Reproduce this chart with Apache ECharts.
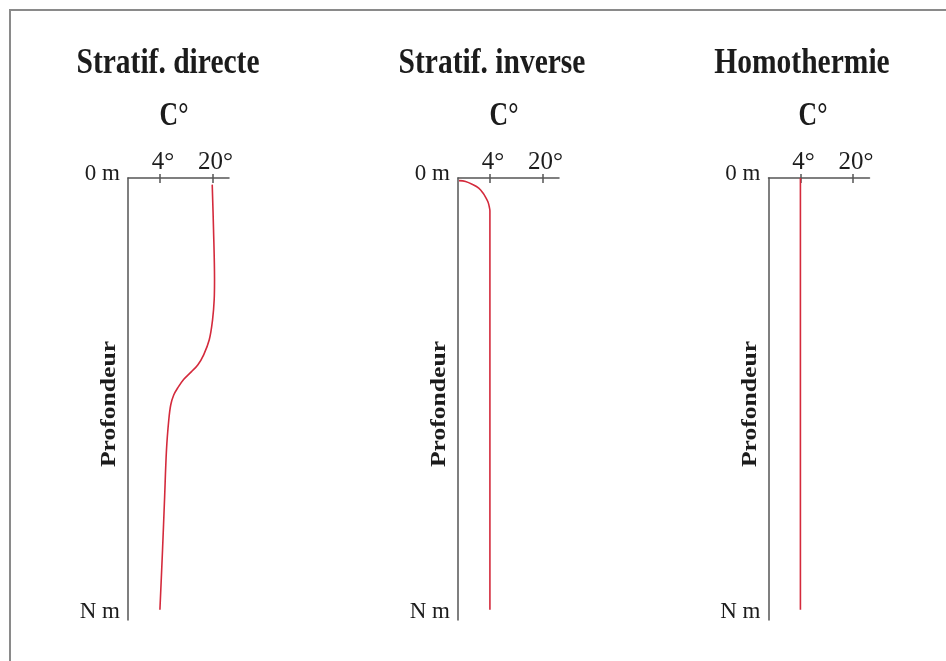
<!DOCTYPE html>
<html><head><meta charset="utf-8">
<script src="https://cdn.jsdelivr.net/npm/echarts@6/dist/echarts.min.js"></script>
<style>html,body{margin:0;padding:0;background:#fff}#c{width:946px;height:661px}</style>
</head><body><div id="c"></div>
<script>
// ---- data ----
const titles = ['Stratif. directe', 'Stratif. inverse', 'Homothermie'];
const unitLabel = 'C°';
const depthAxisName = 'Profondeur';
const tempTicks = [4, 20];
const depthTicks = [0, 100];
const depthTickLabels = ['0 m', 'N m'];
const tempRange = [-5.7, 25];
const depthRange = [0, 100];

// Stratification directe (temperature °C vs schematic depth %)
const directeTemp  = [19.9, 20.3, 20.6, 20.5, 20.0, 19.0, 17.3, 15.5, 13.6, 11.2, 9.4, 8.2, 7.3, 6.7, 6.0, 5.4, 4.8, 4.0];
const directeDepth = [1.5, 11.7, 23.0, 27.5, 32.1, 36.6, 40.0, 42.3, 43.8, 45.6, 47.5, 49.1, 51.3, 54.7, 61.5, 72.8, 84.1, 97.7];
// Stratification inverse
const inverseTemp  = [-5.4, -3.4, -1.2, 0.6, 1.9, 2.8, 3.45, 3.8, 4.0, 4.0];
const inverseDepth = [0.6, 0.8, 1.5, 2.3, 3.4, 4.5, 5.5, 6.5, 7.4, 97.7];
// Homothermie
const homoTemp  = [4.0, 4.0];
const homoDepth = [0.0, 97.7];

const seriesTemp = [directeTemp, inverseTemp, homoTemp];
const seriesDepth = [directeDepth, inverseDepth, homoDepth];

// ---- layout ----
const panelLeft = [128, 458, 768.5];
const titleX = [168, 492, 802];
const unitX = [174, 504, 813];
const axisColor = '#555';
const textColor = '#1c1c1c';
const lineColor = '#d42a3c';
const serif = '"Liberation Serif", "Times New Roman", serif';

const grid = [], xAxis = [], yAxis = [], series = [], graphic = [];
for (let i = 0; i < 3; i++) {
  grid.push({left: panelLeft[i], top: 178, width: 101, height: 442});
  xAxis.push({
    type: 'value', gridIndex: i, position: 'top', min: tempRange[0], max: tempRange[1],
    axisLine: {show: true, onZero: false, lineStyle: {color: axisColor, width: 1.5}},
    axisTick: {show: true, customValues: tempTicks, length: 4, inside: false, lineStyle: {color: axisColor, width: 1.5}},
    axisLabel: {show: true, customValues: tempTicks, formatter: v => v + '°', fontFamily: serif, fontSize: 25,
      color: textColor, margin: 3, padding: [0, 0, 0, 6]},
    splitLine: {show: false}
  });
  xAxis.push({
    type: 'value', gridIndex: i, position: 'top', min: tempRange[0], max: tempRange[1],
    axisLine: {show: false, onZero: false},
    axisTick: {show: true, customValues: tempTicks, length: 5, inside: true, lineStyle: {color: axisColor, width: 1.5}},
    axisLabel: {show: false},
    splitLine: {show: false}
  });
  yAxis.push({
    type: 'value', gridIndex: i, inverse: true, min: depthRange[0], max: depthRange[1],
    axisLine: {show: true, onZero: false, lineStyle: {color: axisColor, width: 1.5}},
    axisTick: {show: false},
    splitLine: {show: false},
    axisLabel: {
      show: true, customValues: depthTicks, margin: 8,
      formatter: v => { const k = depthTicks.indexOf(v); return '{' + (k === 0 ? 'a' : 'b') + '|' + depthTickLabels[k] + '}'; },
      rich: {
        a: {fontFamily: serif, fontSize: 23, color: textColor, padding: [0, 0, 8, 0]},
        b: {fontFamily: serif, fontSize: 23, color: textColor, padding: [0, 0, 16, 0]}
      }
    }
  });
  series.push({
    type: 'line', xAxisIndex: 2 * i, yAxisIndex: i,
    data: seriesTemp[i].map((t, j) => [t, seriesDepth[i][j]]),
    smooth: 0.35, showSymbol: false, silent: true,
    lineStyle: {color: lineColor, width: 1.6}
  });
  graphic.push({type: 'text', x: titleX[i], y: 64, scaleX: 0.82,
    style: {text: titles[i], font: 'bold 36px ' + serif, fill: textColor, align: 'center', verticalAlign: 'middle'}});
  graphic.push({type: 'text', x: unitX[i], y: 116, scaleX: 0.78,
    style: {text: unitLabel, font: 'bold 33px ' + serif, fill: textColor, align: 'center', verticalAlign: 'middle'}});
  graphic.push({type: 'text', x: panelLeft[i] - 18, y: 404, rotation: Math.PI / 2, scaleX: 1.28,
    style: {text: depthAxisName, font: 'bold 20px ' + serif, fill: textColor, align: 'center', verticalAlign: 'middle'}});
}
graphic.push({type: 'rect', shape: {x: 10, y: 10, width: 980, height: 700},
  style: {fill: 'none', stroke: '#8a8a8a', lineWidth: 2}, z: -1});

const chart = echarts.init(document.getElementById('c'));
chart.setOption({
  backgroundColor: '#fff', animation: false,
  grid, xAxis, yAxis, series, graphic
});
</script>
</body></html>
